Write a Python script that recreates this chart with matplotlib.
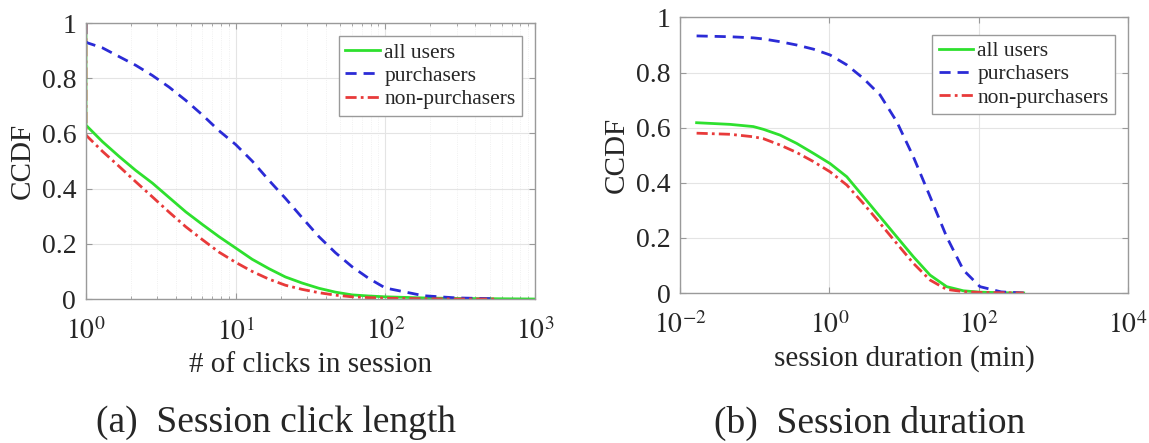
import numpy as np
import matplotlib
matplotlib.use("Agg")
import matplotlib.pyplot as plt

plt.rcParams['font.family'] = ['Liberation Serif', 'DejaVu Serif']
plt.rcParams['mathtext.fontset'] = 'stix'

# (a) session click length, CCDF
clicks_x = [1, 1, 1.29, 1.67, 2.15, 2.78, 3.59, 4.64, 6.0, 7.74, 10, 12.9, 16.7, 21.5,
            27.8, 36, 46.4, 60, 77.4, 100, 180, 300, 550, 1000]
clicks_all = [1.0, 0.63, 0.57, 0.516, 0.466, 0.42, 0.368, 0.316, 0.27, 0.226, 0.185, 0.144,
              0.11, 0.08, 0.058, 0.039, 0.025, 0.015, 0.011, 0.008, 0.004, 0.002, 0.001, 0.0]
clicks_buy = [1.0, 0.93, 0.91, 0.878, 0.847, 0.81, 0.768, 0.72, 0.667, 0.61, 0.56, 0.50,
              0.43, 0.365, 0.295, 0.226, 0.168, 0.117, 0.075, 0.04, 0.012, 0.004, 0.001]
clicks_nobuy = [1.0, 0.594, 0.535, 0.48, 0.425, 0.37, 0.315, 0.262, 0.215, 0.17, 0.133, 0.10,
                0.072, 0.05, 0.035, 0.023, 0.014, 0.008, 0.005, 0.003, 0.001, 0.0, 0.0]

# (b) session duration in minutes, CCDF
dur_x = [0.0167, 0.0468, 0.0959, 0.131, 0.219, 0.365, 0.611, 1.02, 1.71, 2.85, 4.77,
         7.98, 13.3, 22.3, 37.2, 62.4, 104, 200, 400]
dur_all = [0.618, 0.612, 0.604, 0.594, 0.573, 0.543, 0.507, 0.47, 0.422, 0.35, 0.277,
           0.204, 0.132, 0.065, 0.023, 0.008, 0.003, 0.001, 0.0]
dur_buy = [0.933, 0.93, 0.926, 0.922, 0.912, 0.90, 0.885, 0.864, 0.828, 0.779, 0.719,
           0.622, 0.495, 0.35, 0.204, 0.083, 0.023, 0.004, 0.0]
dur_nobuy = [0.58, 0.576, 0.567, 0.56, 0.537, 0.51, 0.477, 0.44, 0.392, 0.325, 0.253,
             0.18, 0.108, 0.047, 0.013, 0.005, 0.002, 0.001, 0.0]

series_names = ["all users", "purchasers", "non-purchasers"]
yticks = [0, 0.2, 0.4, 0.6, 0.8, 1]
ytick_labels = ["0", "0.2", "0.4", "0.6", "0.8", "1"]
clicks_xticks = [1, 10, 100, 1000]
clicks_xtick_labels = [r"$10^{0}$", r"$10^{1}$", r"$10^{2}$", r"$10^{3}$"]
dur_xticks = [1e-2, 1, 1e2, 1e4]
dur_xtick_labels = [r"$10^{-2}$", r"$10^{0}$", r"$10^{2}$", r"$10^{4}$"]

green = "#2ee02e"
blue = "#2b2bd6"
red = "#e83a3a"
txt = "#262626"

fig = plt.figure(figsize=(11.49, 4.43), dpi=100)
ax1 = fig.add_axes([0.0748, 0.325, 0.3908, 0.623])
ax2 = fig.add_axes([0.5918, 0.3386, 0.390, 0.622])


def style(ax, xt, xtl, minor_grid):
    ax.set_xscale("log")
    ax.set_ylim(0, 1)
    ax.set_xticks(xt)
    ax.set_xticklabels(xtl, fontsize=20, color=txt)
    ax.set_yticks(yticks)
    ax.set_yticklabels(ytick_labels, fontsize=20, color=txt)
    if not minor_grid:
        ax.xaxis.set_minor_locator(matplotlib.ticker.NullLocator())
    ax.tick_params(which="both", direction="in", top=True, right=True,
                   color="#999999", length=4)
    ax.tick_params(axis="y", which="major", pad=7)
    ax.tick_params(axis="x", which="major", pad=14)
    ax.tick_params(which="minor", length=2)
    for s in ax.spines.values():
        s.set_color("#9a9a9a")
        s.set_linewidth(1.0)
    ax.grid(which="major", color="#e4e4e4", linewidth=0.8)
    if minor_grid:
        ax.grid(which="minor", axis="x", color="#ececec", linewidth=0.6, linestyle=":")
    ax.set_axisbelow(True)
    ax.set_ylabel("CCDF", fontsize=21, color=txt, labelpad=4)


dash = (0, (4, 2.5))
dashdot = (0, (4, 1.5, 1, 1.5))

# dessin (a)
ax1.plot(clicks_x, clicks_all, color=green, lw=2, label=series_names[0])
ax1.plot(clicks_x[:len(clicks_buy)], clicks_buy, color=blue, lw=2, ls=dash, label=series_names[1])
ax1.plot(clicks_x[:len(clicks_nobuy)], clicks_nobuy, color=red, lw=2, ls=dashdot, label=series_names[2])
ax1.set_xlim(1, 1000)
style(ax1, clicks_xticks, clicks_xtick_labels, True)
ax1.set_xlabel("# of clicks in session", fontsize=21, color=txt, labelpad=4)

# dessin (b)
ax2.plot(dur_x, dur_all, color=green, lw=2, label=series_names[0])
ax2.plot(dur_x, dur_buy, color=blue, lw=2, ls=dash, label=series_names[1])
ax2.plot(dur_x, dur_nobuy, color=red, lw=2, ls=dashdot, label=series_names[2])
ax2.set_xlim(1e-2, 1e4)
style(ax2, dur_xticks, dur_xtick_labels, False)
ax2.set_xlabel("session duration (min)", fontsize=21, color=txt, labelpad=4)

for ax, anchor in [(ax1, (0.971, 0.953)), (ax2, (0.971, 0.938))]:
    leg = ax.legend(loc="upper right", bbox_to_anchor=anchor, fontsize=15.5,
                    fancybox=False, framealpha=1, edgecolor="#9a9a9a",
                    handlelength=1.6, handletextpad=0.2, labelspacing=0.15,
                    borderpad=0.3, borderaxespad=0)
    leg.get_frame().set_linewidth(1.0)
    for t in leg.get_texts():
        t.set_color(txt)

# sous-titres
fig.text(0.240, 0.045, "(a)  Session click length", fontsize=27, color=txt,
         ha="center", va="center")
fig.text(0.757, 0.045, "(b)  Session duration", fontsize=27, color=txt,
         ha="center", va="center")

fig.savefig("out.png", dpi=100)
